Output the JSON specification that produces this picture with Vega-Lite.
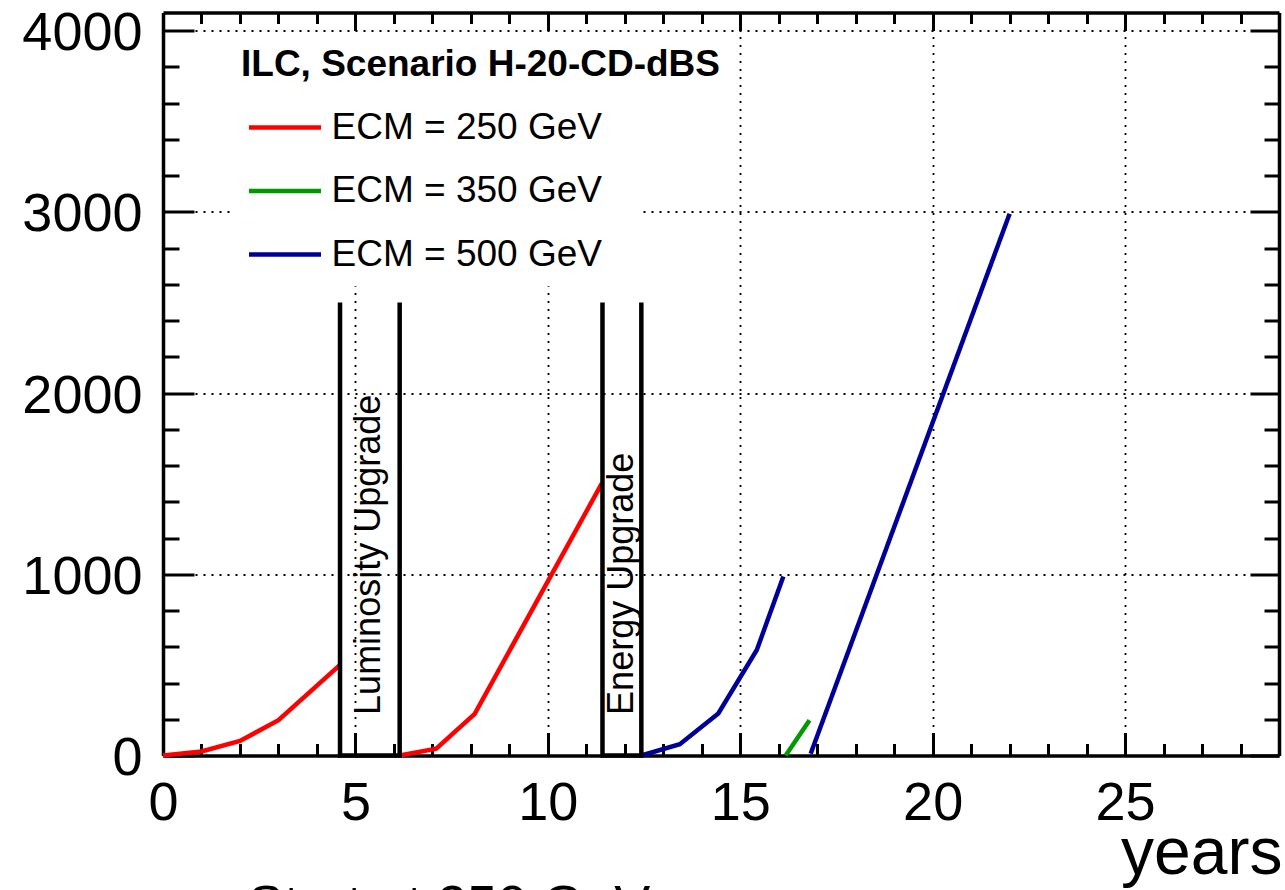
{
  "$schema": "https://vega.github.io/schema/vega-lite/v6.json",
  "width": 1116,
  "height": 743,
  "autosize": {"type": "none"},
  "padding": {"left": 163, "top": 12.5, "right": 6, "bottom": 134.5},
  "background": "white",
  "config": {
    "view": {"stroke": null},
    "font": "Liberation Sans",
    "axis": {
      "domainColor": "black",
      "domainWidth": 3.5,
      "tickColor": "black",
      "tickWidth": 3,
      "labelColor": "black",
      "labelFont": "Liberation Sans",
      "labelFontSize": 54,
      "titleColor": "black",
      "titleFont": "Liberation Sans",
      "titleFontWeight": "normal",
      "gridColor": "black",
      "gridDash": [2, 6],
      "gridWidth": 1.8,
      "gridOpacity": 1,
      "labelFlush": false,
      "labelOverlap": false,
      "format": "d"
    }
  },
  "title": {
    "text": "Start at 250 GeV",
    "orient": "bottom",
    "anchor": "start",
    "frame": "group",
    "dx": 85,
    "offset": -7,
    "fontSize": 54,
    "fontWeight": "normal",
    "font": "Liberation Sans",
    "color": "black"
  },
  "datasets": {
    "box": [{"x": 1.8, "x2": 12.4, "y": 2590, "y2": 3985}],
    "curves": [
      {"ecm": "ECM = 250 GeV", "seg": "a", "x": 0, "y": 0},
      {"ecm": "ECM = 250 GeV", "seg": "a", "x": 1, "y": 22},
      {"ecm": "ECM = 250 GeV", "seg": "a", "x": 2, "y": 80},
      {"ecm": "ECM = 250 GeV", "seg": "a", "x": 3, "y": 195},
      {"ecm": "ECM = 250 GeV", "seg": "a", "x": 4.6, "y": 500},
      {"ecm": "ECM = 250 GeV", "seg": "b", "x": 6.15, "y": 0},
      {"ecm": "ECM = 250 GeV", "seg": "b", "x": 7.1, "y": 38},
      {"ecm": "ECM = 250 GeV", "seg": "b", "x": 8.1, "y": 230},
      {"ecm": "ECM = 250 GeV", "seg": "b", "x": 11.4, "y": 1500},
      {"ecm": "ECM = 350 GeV", "seg": "c", "x": 16.18, "y": 0},
      {"ecm": "ECM = 350 GeV", "seg": "c", "x": 16.8, "y": 195},
      {"ecm": "ECM = 500 GeV", "seg": "d", "x": 12.43, "y": 0},
      {"ecm": "ECM = 500 GeV", "seg": "d", "x": 13.43, "y": 62},
      {"ecm": "ECM = 500 GeV", "seg": "d", "x": 14.43, "y": 232},
      {"ecm": "ECM = 500 GeV", "seg": "d", "x": 15.43, "y": 582},
      {"ecm": "ECM = 500 GeV", "seg": "d", "x": 16.12, "y": 988},
      {"ecm": "ECM = 500 GeV", "seg": "e", "x": 16.83, "y": 10},
      {"ecm": "ECM = 500 GeV", "seg": "e", "x": 22, "y": 2990}
    ],
    "upgrades": [
      {"box": "lumi", "i": 0, "x": 4.6, "y": 2500},
      {"box": "lumi", "i": 1, "x": 4.6, "y": 0},
      {"box": "lumi", "i": 2, "x": 6.15, "y": 0},
      {"box": "lumi", "i": 3, "x": 6.15, "y": 2500},
      {"box": "energy", "i": 0, "x": 11.42, "y": 2500},
      {"box": "energy", "i": 1, "x": 11.42, "y": 0},
      {"box": "energy", "i": 2, "x": 12.43, "y": 0},
      {"box": "energy", "i": 3, "x": 12.43, "y": 2500}
    ],
    "notes": [
      {"label": "Luminosity Upgrade", "x": 5.64, "y": 224},
      {"label": "Energy Upgrade", "x": 12.21, "y": 224}
    ]
  },
  "layer": [
    {
      "data": {"name": "box"},
      "mark": {"type": "rect", "fill": "white"},
      "encoding": {
        "x": {
          "field": "x", "type": "quantitative",
          "scale": {"domain": [0, 29], "nice": false, "zero": false},
          "axis": {
            "orient": "bottom", "values": [0, 5, 10, 15, 20, 25], "tickSize": -23,
            "labelPadding": 44, "grid": true, "domain": true,
            "title": "years", "titleFontSize": 66, "titleAnchor": "end", "titleAlign": "right",
            "titleBaseline": "alphabetic", "titleX": 1119, "titleY": 118
          }
        },
        "x2": {"field": "x2"},
        "y": {
          "field": "y", "type": "quantitative",
          "scale": {"domain": [0, 4100], "nice": false, "zero": true},
          "axis": {
            "orient": "left", "values": [0, 1000, 2000, 3000, 4000], "tickSize": -31,
            "labelPadding": 52, "labelBaseline": "middle", "labelOffset": 3,
            "grid": true, "domain": true, "title": null
          }
        },
        "y2": {"field": "y2"}
      }
    },
    {
      "data": {"name": "curves"},
      "mark": {"type": "line", "strokeWidth": 4.5},
      "encoding": {
        "x": {
          "field": "x", "type": "quantitative",
          "scale": {"domain": [0, 29], "nice": false, "zero": false},
          "axis": {
            "orient": "bottom", "values": [1, 2, 3, 4, 6, 7, 8, 9, 11, 12, 13, 14, 16, 17, 18, 19, 21, 22, 23, 24, 26, 27, 28],
            "tickSize": -12, "labels": false, "domain": false, "grid": false, "title": null
          }
        },
        "y": {
          "field": "y", "type": "quantitative",
          "scale": {"domain": [0, 4100], "nice": false, "zero": true},
          "axis": {
            "orient": "left", "values": [200, 400, 600, 800, 1200, 1400, 1600, 1800, 2200, 2400, 2600, 2800, 3200, 3400, 3600, 3800],
            "tickSize": -16, "labels": false, "domain": false, "grid": false, "title": null
          }
        },
        "color": {
          "field": "ecm", "type": "nominal",
          "scale": {"domain": ["ECM = 250 GeV", "ECM = 350 GeV", "ECM = 500 GeV"], "range": ["#ff0000", "#009900", "#000099"]},
          "legend": {
            "orient": "none", "legendX": 66, "legendY": 22.6,
            "title": "ILC, Scenario H-20-CD-dBS",
            "titleFont": "Liberation Sans", "titleFontSize": 37, "titleFontWeight": "bold", "titleColor": "black",
            "titleLimit": 1000, "titlePadding": 5,
            "labelFont": "Liberation Sans", "labelFontSize": 37, "labelColor": "black", "labelLimit": 1000,
            "symbolType": "stroke", "symbolSize": 5184, "symbolStrokeWidth": 4.5,
            "symbolOffset": 5.5, "labelOffset": 8, "rowPadding": 6.5, "padding": 12
          }
        },
        "detail": {"field": "seg"}
      }
    },
    {
      "data": {"name": "upgrades"},
      "mark": {"type": "line", "color": "black", "strokeWidth": 4.5},
      "encoding": {
        "x": {
          "field": "x", "type": "quantitative",
          "scale": {"domain": [0, 29], "nice": false, "zero": false},
          "axis": {
            "orient": "top", "values": [0, 5, 10, 15, 20, 25], "tickSize": -18,
            "labels": false, "domain": true, "grid": false, "title": null
          }
        },
        "y": {
          "field": "y", "type": "quantitative",
          "scale": {"domain": [0, 4100], "nice": false, "zero": true},
          "axis": {
            "orient": "right", "values": [0, 1000, 2000, 3000, 4000], "tickSize": -29,
            "labels": false, "domain": true, "grid": false, "title": null
          }
        },
        "detail": {"field": "box"},
        "order": {"field": "i", "type": "quantitative"}
      }
    },
    {
      "data": {"name": "notes"},
      "mark": {"type": "text", "angle": 270, "align": "left", "baseline": "alphabetic", "fontSize": 36, "font": "Liberation Sans", "color": "black"},
      "encoding": {
        "x": {
          "field": "x", "type": "quantitative",
          "scale": {"domain": [0, 29], "nice": false, "zero": false},
          "axis": {
            "orient": "top", "values": [1, 2, 3, 4, 6, 7, 8, 9, 11, 12, 13, 14, 16, 17, 18, 19, 21, 22, 23, 24, 26, 27, 28],
            "tickSize": -11, "labels": false, "domain": false, "grid": false, "title": null
          }
        },
        "y": {
          "field": "y", "type": "quantitative",
          "scale": {"domain": [0, 4100], "nice": false, "zero": true},
          "axis": {
            "orient": "right", "values": [200, 400, 600, 800, 1200, 1400, 1600, 1800, 2200, 2400, 2600, 2800, 3200, 3400, 3600, 3800],
            "tickSize": -15, "labels": false, "domain": false, "grid": false, "title": null
          }
        },
        "text": {"field": "label"}
      }
    }
  ],
  "resolve": {"axis": {"x": "independent", "y": "independent"}}
}
